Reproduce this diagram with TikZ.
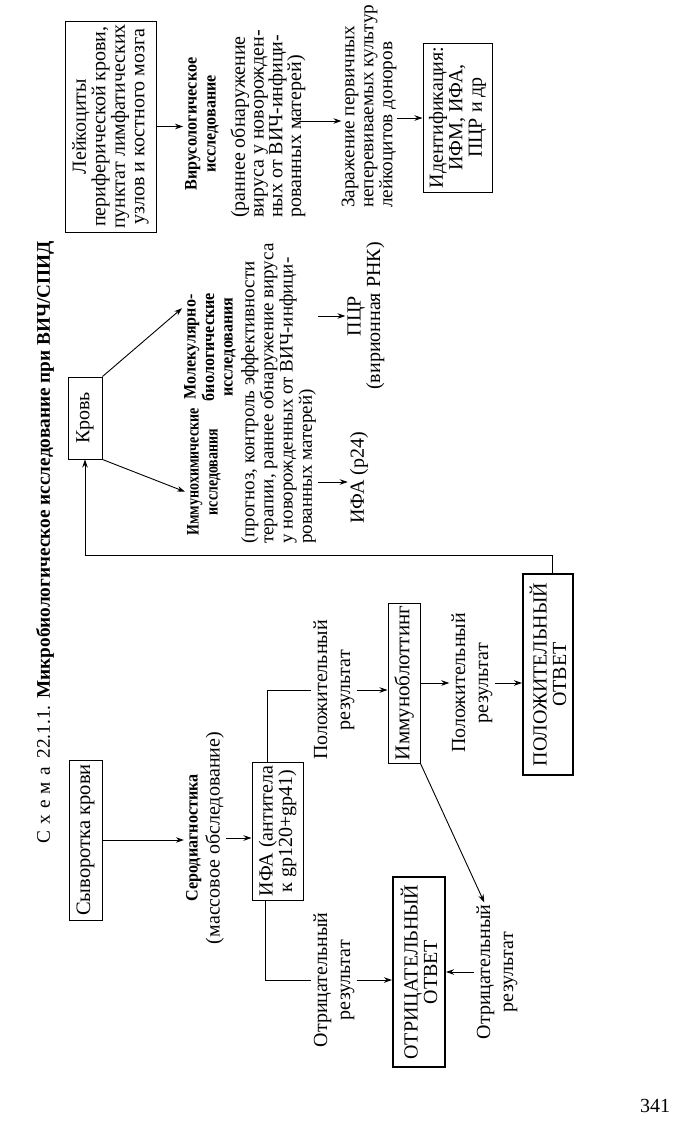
\documentclass[tikz,border=0pt]{standalone}
\usepackage{fontspec}
\setmainfont{Liberation Serif}
\newfontfamily\condserif[FakeStretch=0.8]{Liberation Serif}
\newfontfamily\semicond[FakeStretch=0.92]{Liberation Serif}
\usetikzlibrary{arrows.meta,calc}
\begin{document}
\begin{tikzpicture}[x=1pt,y=-1pt,
  every node/.style={font=\fontsize{20}{19.5}\selectfont},
  rbox/.style={draw, line width=1pt, rotate=90, align=center, inner sep=0pt},
  tbox/.style={draw, line width=2pt, rotate=90, align=center, inner sep=0pt},
  lbl/.style={rotate=90, align=center, inner sep=2pt, font=\fontsize{20}{23}\selectfont},
  hd/.style={rotate=90, align=center, inner sep=2pt, font=\fontsize{17.5}{18.5}\selectfont\semicond\bfseries},
  ptext/.style={rotate=90, align=left, inner sep=0pt, anchor=west},
  arr/.style={-{Stealth[length=8pt,width=5.5pt]}, line width=0.9pt},
  ln/.style={line width=0.9pt}
]
\useasboundingbox (0,0) rectangle (678,1133);

\node[lbl, font=\fontsize{19.3}{22}\selectfont] (title) at (45,542) {С\hspace{6pt}х\hspace{6pt}е\hspace{6pt}м\hspace{6pt}а\hspace{9pt}22.1.1. \textbf{Микробиологическое исследование при ВИЧ/СПИД}};

\node[rbox, minimum width=160pt, minimum height=33pt, font=\fontsize{20.5}{19.5}\selectfont] (syv) at (85.5,840) {Сыворотка крови};
\node[rbox, minimum width=82pt, minimum height=34pt] (krov) at (85,418) {Кровь};
\node[rbox, minimum width=211pt, minimum height=91pt] (leik) at (110.5,126.5) {Лейкоциты\\периферической крови,\\пунктат лимфатических\\узлов и костного мозга};
\node[lbl, font=\fontsize{20}{22}\selectfont] (sero) at (205,838) {{\fontsize{17.5}{18}\selectfont\semicond\bfseries Серодиагностика}\\(массовое обследование)};
\node[rbox, minimum width=138pt, minimum height=51pt] (ifa) at (277.5,831) {ИФА (антитела\\к gp120+gp41)};
\node[lbl] (pos1) at (334,690) {Положительный\\результат};
\node[rbox, minimum width=160pt, minimum height=32pt, font=\fontsize{21}{19.5}\selectfont] (imb) at (404,683) {Иммуноблоттинг};
\node[lbl] (pos2) at (472,683) {Положительный\\результат};
\node[tbox, minimum width=201pt, minimum height=50pt] (pos) at (548,674.5) {ПОЛОЖИТЕЛЬНЫЙ\\ОТВЕТ};
\node[lbl] (neg1) at (334,980) {Отрицательный\\результат};
\node[tbox, minimum width=190pt, minimum height=52pt] (neg) at (419,972) {ОТРИЦАТЕЛЬНЫЙ\\ОТВЕТ};
\node[lbl] (neg2) at (497,972) {Отрицательный\\результат};

\node[hd, font=\fontsize{17.5}{19}\selectfont\condserif\bfseries] (imh) at (204,472) {Иммунохимические\\исследования};
\node[ptext, font=\fontsize{19}{19.2}\selectfont] (imhp) at (278.5,544) {(прогноз, контроль эффективности\\терапии, раннее обнаружение вируса\\у новорожденных от ВИЧ-инфици-\\рованных матерей)};
\node[hd] (mol) at (210,347) {Молекулярно-\\биологические\\исследования};
\node[lbl] (ifa24) at (359,478) {ИФА (p24)};
\node[lbl, font=\fontsize{20}{19.5}\selectfont] (pcr) at (366,316) {ПЦР\\(вирионная РНК)};
\node[hd, font=\fontsize{17.5}{19}\selectfont\semicond\bfseries] (vir) at (202,124) {Вирусологическое\\исследование};
\node[ptext, font=\fontsize{20}{18.8}\selectfont] (virp) at (268,218) {(раннее обнаружение\\вируса у новорожден-\\ных от ВИЧ-инфици-\\рованных матерей)};
\node[ptext, font=\fontsize{19.2}{19}\selectfont] (zar) at (369,208) {Заражение первичных\\неперевиваемых культур\\лейкоцитов доноров};
\node[rbox, minimum width=149pt, minimum height=69pt] (ident) at (457.5,117.5) {Идентификация:\\ИФМ, ИФА,\\ПЦР и др};
\node[inner sep=0pt] (page) at (655,1106) {341};

\coordinate (ret) at (0,555);
\draw[arr] (syv.south) -- (syv.south -| sero.north);
\draw[arr] (sero.south) -- (sero.south -| ifa.north);
\draw[ln] ($(ifa.north east)!0.31!(ifa.south east)$) |- (pos1.north);
\draw[arr] (pos1.south) -- (pos1.south -| imb.north);
\draw[arr] (imb.south) -- (imb.south -| pos2.north);
\draw[arr] (pos2.south) -- (pos2.south -| pos.north);
\draw[arr] ($(pos.north east)!0.58!(pos.south east)$) |- (krov.west |- ret) -- (krov.west);
\draw[ln] ($(ifa.north west)!0.27!(ifa.south west)$) |- (neg1.north);
\draw[arr] (neg1.south) -- (neg1.south -| neg.north);
\draw[arr] (neg2.north) -- (neg2.north -| neg.south);
\draw[arr] (imb.south west) -- ($(neg2.north east)!0.22!(neg2.south east)$);
\draw[arr] (krov.south west) -- ($(imh.north)!0.3!(imh.north west)$);
\draw[arr] (krov.south east) -- ($(mol.north)!0.69!(mol.north east)$);
\coordinate (a24) at (318,482);
\draw[arr] (a24) -- (a24 -| ifa24.north);
\coordinate (apcr) at (318,316);
\draw[arr] (apcr) -- (apcr -| pcr.north);
\draw[arr] (leik.south) -- (leik.south -| vir.north);
\coordinate (avir) at (299,121);
\draw[arr] (avir) -- (avir -| zar.north);
\coordinate (azar) at (0,118);
\draw[arr] (zar.south |- azar) -- (ident.north |- azar);
\end{tikzpicture}
\end{document}
